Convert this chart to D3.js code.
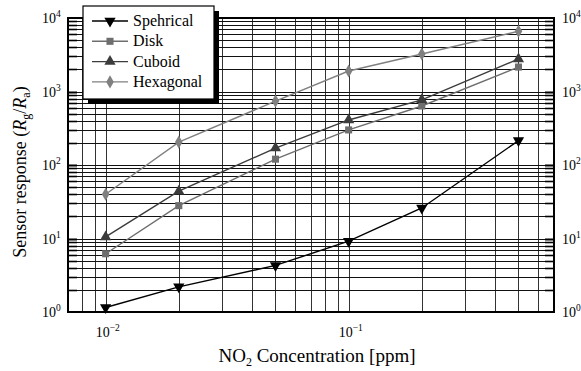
<!DOCTYPE html>
<html>
<head>
<meta charset="utf-8">
<script src="https://d3js.org/d3.v7.min.js"></script>
<style>
  body { margin: 0; background: #fff; }
  svg text { font-family: "Liberation Serif", "Times New Roman", serif; }
</style>
</head>
<body>
<div id="chart"></div>
<script>
// NO2 concentration (ppm)
var conc = [0.01, 0.02, 0.05, 0.1, 0.2, 0.5];
var spherical = [1.15, 2.2, 4.3, 9.2, 26, 215];
var disk = [6.2, 28, 120, 300, 635, 2150];
var cuboid = [10.5, 44, 170, 410, 770, 2770];
var hexagonal = [40, 205, 740, 1900, 3240, 6600];
var seriesNames = ["Spehrical", "Disk", "Cuboid", "Hexagonal"];
var yTickExp = [0, 1, 2, 3, 4];
var xTickExp = [-2, -1];

var W = 581, H = 371;
var margin = {left: 68, right: 27, top: 18, bottom: 59};
var w = W - margin.left - margin.right,
    h = H - margin.top - margin.bottom;

var x = d3.scaleLog().domain([0.007, 0.7]).range([0, w]);
var y = d3.scaleLog().domain([1, 10000]).range([h, 0]);

var svg = d3.select("#chart").append("svg")
    .attr("width", W).attr("height", H);
var g = svg.append("g")
    .attr("transform", "translate(" + margin.left + "," + margin.top + ")");

// grid values
var xGrid = [], yGrid = [];
[0.001, 0.01, 0.1].forEach(function(d) {
  for (var k = 1; k < 10; k++) {
    var v = +(d * k).toPrecision(3);
    if (v > 0.007 && v < 0.7) xGrid.push(v);
  }
});
[1, 10, 100, 1000].forEach(function(d) {
  for (var k = 1; k <= 10; k++) {
    var v = d * k;
    if (v > 1 && v < 10000) yGrid.push(v);
  }
});

g.append("g").selectAll("line").data(xGrid).enter().append("line")
    .attr("x1", function(d) { return Math.round(x(d)) + 0.5; })
    .attr("x2", function(d) { return Math.round(x(d)) + 0.5; })
    .attr("y1", 0).attr("y2", h)
    .attr("stroke", "#333").attr("stroke-width", 1);
g.append("g").selectAll("line").data(yGrid).enter().append("line")
    .attr("y1", function(d) { return Math.round(y(d)) + 0.5; })
    .attr("y2", function(d) { return Math.round(y(d)) + 0.5; })
    .attr("x1", 0).attr("x2", w)
    .attr("stroke", "#111").attr("stroke-width", 1);

// inner ticks on both y sides
g.append("g").selectAll("line").data(yGrid).enter().append("line")
    .attr("y1", function(d) { return Math.round(y(d)) + 0.5; })
    .attr("y2", function(d) { return Math.round(y(d)) + 0.5; })
    .attr("x1", 0).attr("x2", 9)
    .attr("stroke", "#000").attr("stroke-width", 1.6);
g.append("g").selectAll("line").data(yGrid).enter().append("line")
    .attr("y1", function(d) { return Math.round(y(d)) + 0.5; })
    .attr("y2", function(d) { return Math.round(y(d)) + 0.5; })
    .attr("x1", w - 9).attr("x2", w)
    .attr("stroke", "#000").attr("stroke-width", 1.6);

// frame
g.append("rect").attr("x", 0).attr("y", 0).attr("width", w).attr("height", h)
    .attr("fill", "none").attr("stroke", "#000").attr("stroke-width", 2);

// tick labels as 10^n
function powLabel(sel, exp) {
  sel.append("tspan").text("10");
  sel.append("tspan").attr("dy", -6).attr("font-size", 9.5).text(exp < 0 ? "\u2212" + (-exp) : exp);
}
yTickExp.forEach(function(e) {
  var ty = y(Math.pow(10, e)) + 5;
  var tl = g.append("text").attr("x", -26).attr("y", ty).attr("font-size", 14);
  powLabel(tl, e);
  var tr = g.append("text").attr("x", w + 8).attr("y", ty).attr("font-size", 14);
  powLabel(tr, e);
});
xTickExp.forEach(function(e) {
  var tx = g.append("text").attr("x", x(Math.pow(10, e)) - 10).attr("y", h + 25).attr("font-size", 14);
  powLabel(tx, e);
});

// axis titles
var xt = svg.append("text").attr("x", 317).attr("y", 362).attr("text-anchor", "middle").attr("font-size", 19);
xt.append("tspan").text("NO");
xt.append("tspan").attr("font-size", 12).attr("dy", 4).text("2");
xt.append("tspan").attr("dy", -4).text(" Concentration [ppm]");

var yt = svg.append("text").attr("transform", "translate(26,172) rotate(-90)")
    .attr("text-anchor", "middle").attr("font-size", 18);
yt.append("tspan").text("Sensor response (");
yt.append("tspan").attr("font-style", "italic").text("R");
yt.append("tspan").attr("font-size", 12).attr("dy", 4).text("g");
yt.append("tspan").attr("dy", -4).text("/");
yt.append("tspan").attr("font-style", "italic").text("R");
yt.append("tspan").attr("font-size", 12).attr("dy", 4).text("a");
yt.append("tspan").attr("dy", -4).text(")");

// series
var series = [
  {name: seriesNames[0], vals: spherical, line: "#000", fill: "#000", sym: d3.symbolTriangle, rot: 180, size: 55},
  {name: seriesNames[1], vals: disk, line: "#6e6e6e", fill: "#6e6e6e", sym: d3.symbolSquare, rot: 0, size: 50},
  {name: seriesNames[2], vals: cuboid, line: "#3c3c3c", fill: "#3c3c3c", sym: d3.symbolTriangle, rot: 0, size: 55},
  {name: seriesNames[3], vals: hexagonal, line: "#808080", fill: "#808080", sym: d3.symbolDiamond, rot: 0, size: 50}
];

var line = d3.line()
    .x(function(d) { return x(d[0]); })
    .y(function(d) { return y(d[1]); });

series.forEach(function(s) {
  var pts = conc.map(function(c, i) { return [c, s.vals[i]]; });
  g.append("path").datum(pts).attr("d", line)
      .attr("fill", "none").attr("stroke", s.line).attr("stroke-width", 1.4);
  g.selectAll(null).data(pts).enter().append("path")
      .attr("d", d3.symbol().type(s.sym).size(s.size))
      .attr("transform", function(d) { return "translate(" + x(d[0]) + "," + y(d[1]) + ") rotate(" + s.rot + ")"; })
      .attr("fill", s.fill);
});

// legend
var lg = svg.append("g").attr("transform", "translate(83,6)");
lg.append("rect").attr("x", 5).attr("y", 5).attr("width", 131).attr("height", 93).attr("fill", "#000");
lg.append("rect").attr("x", 0).attr("y", 0).attr("width", 131).attr("height", 93)
    .attr("fill", "#fff").attr("stroke", "#000").attr("stroke-width", 1.2);
series.forEach(function(s, i) {
  var ly = 15 + i * 20.3;
  lg.append("line").attr("x1", 9).attr("x2", 45).attr("y1", ly).attr("y2", ly)
      .attr("stroke", s.line).attr("stroke-width", 1.4);
  lg.append("path").attr("d", d3.symbol().type(s.sym).size(s.size)())
      .attr("transform", "translate(27," + ly + ") rotate(" + s.rot + ")")
      .attr("fill", s.fill);
  lg.append("text").attr("x", 50).attr("y", ly + 5).attr("font-size", 16).text(s.name);
});
</script>
</body>
</html>
